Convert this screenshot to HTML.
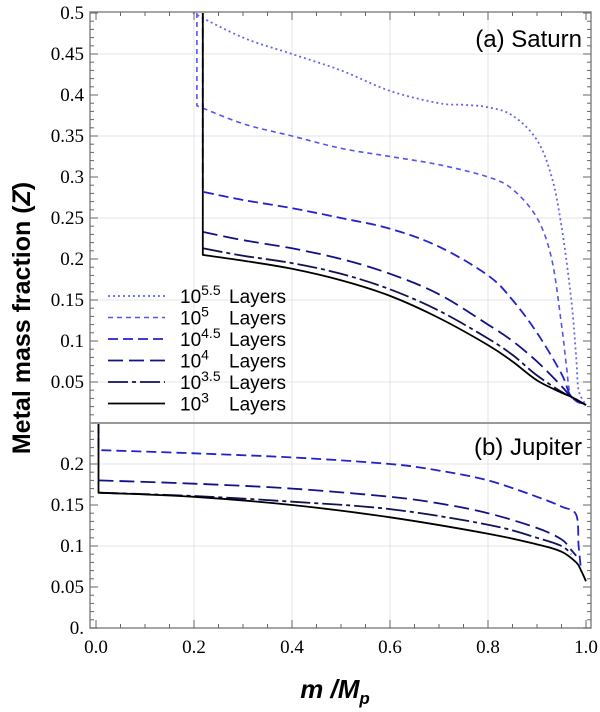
<!DOCTYPE html>
<html><head><meta charset="utf-8"><style>
html,body{margin:0;padding:0;background:#fff;width:600px;height:712px;overflow:hidden}
.serif{font-family:"Liberation Serif","DejaVu Serif",serif}
.sans{font-family:"Liberation Sans","DejaVu Sans",sans-serif}
</style></head><body>
<svg id="chart" width="600" height="712" xmlns="http://www.w3.org/2000/svg"></svg>
<script>
const xTicks=[0,0.2,0.4,0.6,0.8,1.0];
const xTickLabels=["0.0","0.2","0.4","0.6","0.8","1.0"];
const satTicks=[0.05,0.1,0.15,0.2,0.25,0.3,0.35,0.4,0.45,0.5];
const satTickLabels=["0.05","0.1","0.15","0.2","0.25","0.3","0.35","0.4","0.45","0.5"];
const jupTicks=[0,0.05,0.1,0.15,0.2];
const jupTickLabels=["0.","0.05","0.1","0.15","0.2"];
const seriesNames=["5.5","5","4.5","4","3.5","3"];
// Saturn series [m, Z]
const sat55=[[0.198,0.5],[0.3,0.47],[0.4,0.45],[0.5,0.43],[0.6,0.405],[0.7,0.39],[0.75,0.388],[0.8,0.385],[0.85,0.375],[0.9,0.345],[0.93,0.3],[0.95,0.24],[0.97,0.15],[0.98,0.08],[0.985,0.04],[1.0,0.022]];
const sat5=[[0.206,0.5],[0.206,0.387],[0.3,0.365],[0.4,0.35],[0.5,0.335],[0.6,0.325],[0.7,0.315],[0.8,0.3],[0.85,0.285],[0.9,0.25],[0.93,0.2],[0.95,0.12],[0.96,0.07],[0.97,0.032],[1.0,0.022]];
const sat45=[[0.218,0.5],[0.218,0.282],[0.3,0.272],[0.4,0.262],[0.5,0.25],[0.6,0.237],[0.7,0.215],[0.8,0.18],[0.85,0.15],[0.9,0.11],[0.95,0.06],[0.97,0.032],[1.0,0.022]];
const sat4=[[0.218,0.233],[0.3,0.223],[0.4,0.213],[0.5,0.2],[0.6,0.182],[0.7,0.157],[0.8,0.12],[0.85,0.1],[0.9,0.075],[0.95,0.045],[0.97,0.032],[1.0,0.022]];
const sat35=[[0.218,0.213],[0.3,0.204],[0.4,0.195],[0.5,0.182],[0.6,0.163],[0.7,0.137],[0.8,0.103],[0.85,0.083],[0.9,0.058],[0.95,0.038],[0.97,0.032],[1.0,0.022]];
const sat3=[[0.218,0.5],[0.218,0.205],[0.3,0.198],[0.4,0.188],[0.5,0.174],[0.6,0.155],[0.7,0.128],[0.8,0.095],[0.85,0.075],[0.9,0.052],[0.95,0.037],[0.97,0.032],[1.0,0.022]];
// Jupiter series
const jup45=[[0.005,0.25],[0.005,0.217],[0.2,0.213],[0.4,0.208],[0.6,0.2],[0.7,0.192],[0.8,0.18],[0.9,0.16],[0.95,0.148],[0.98,0.138],[0.985,0.1],[0.99,0.07]];
const jup4=[[0.005,0.18],[0.2,0.176],[0.4,0.17],[0.6,0.16],[0.7,0.152],[0.8,0.14],[0.9,0.122],[0.95,0.108],[0.97,0.095],[0.98,0.088]];
const jup35=[[0.005,0.165],[0.2,0.161],[0.4,0.154],[0.6,0.145],[0.8,0.126],[0.9,0.11],[0.95,0.1],[0.97,0.09]];
const jup3=[[0.005,0.25],[0.005,0.165],[0.2,0.16],[0.4,0.15],[0.6,0.135],[0.8,0.115],[0.9,0.102],[0.95,0.093],[0.98,0.08],[0.99,0.07],[1.0,0.057]];

const NS="http://www.w3.org/2000/svg";
const svg=document.getElementById('chart');
const X0=96,X1=586,L=90,R=591,SAT0=423,JUP0=628,K=820,TOP=12;
const xs=m=>X0+(X1-X0)*m;
const ySat=z=>SAT0-K*z;
const yJup=z=>JUP0-K*z;
function el(t,a,p){const e=document.createElementNS(NS,t);for(const k in a)e.setAttribute(k,a[k]);(p||svg).appendChild(e);return e;}
const styles=[
 {c:"#6666ee",d:"2,3",w:1.8},{c:"#5555ee",d:"5,4",w:1.6},{c:"#2222cc",d:"10,5",w:1.8},
 {c:"#111188",d:"15,6",w:1.8},{c:"#111155",d:"20,4,4,4",w:1.8},{c:"#000",d:"",w:1.8}];
// grid
const g=el('g',{});

xTicks.slice(1,5).forEach(v=>{el('line',{x1:xs(v),x2:xs(v),y1:TOP,y2:JUP0,stroke:"#e4e4e4","stroke-width":1},g);});
[0.05,0.15,0.25,0.35,0.45].forEach(v=>{el('line',{x1:L,x2:R,y1:ySat(v),y2:ySat(v),stroke:"#e4e4e4"},g);});
[0.1,0.2].forEach(v=>{el('line',{x1:L,x2:R,y1:yJup(v),y2:yJup(v),stroke:"#e4e4e4"},g);});
function smooth(pts){
 let d='M'+pts[0][0].toFixed(1)+','+pts[0][1].toFixed(1);
 let start=0;
 if(pts.length>1&&Math.abs(pts[1][0]-pts[0][0])<0.5){d+=' L'+pts[1][0].toFixed(1)+','+pts[1][1].toFixed(1);start=1;}
 const p=pts.slice(start);
 for(let i=0;i<p.length-1;i++){
  const p0=p[Math.max(i-1,0)],p1=p[i],p2=p[i+1],p3=p[Math.min(i+2,p.length-1)];
  const t=0.5/3;
  const c1=[p1[0]+(p2[0]-p0[0])*t,p1[1]+(p2[1]-p0[1])*t];
  const c2=[p2[0]-(p3[0]-p1[0])*t,p2[1]-(p3[1]-p1[1])*t];
  d+=' C'+c1[0].toFixed(1)+','+c1[1].toFixed(1)+' '+c2[0].toFixed(1)+','+c2[1].toFixed(1)+' '+p2[0].toFixed(1)+','+p2[1].toFixed(1);
 }
 return d;
}
function path(data,yf,s,name,parent){
 const pts=data.map(p=>[xs(p[0]),yf(p[1])]);
 const e=el('path',{d:smooth(pts),fill:'none',stroke:s.c,'stroke-width':s.w,'stroke-dasharray':s.d,'stroke-linejoin':'round'},parent);
 
 
}
const satG=el('g',{});
[sat55,sat5,sat45,sat4,sat35,sat3].forEach((d,i)=>path(d,ySat,styles[i],'saturn-series-'+seriesNames[i].replace('.','-'),satG));
const jupG=el('g',{});
[jup45,jup4,jup35,jup3].forEach((d,i)=>path(d,yJup,styles[i+2],'jupiter-series-'+seriesNames[i+2].replace('.','-'),jupG));
// frames
const fr=el('g',{stroke:"#888",fill:"none","stroke-width":1.5});

el('rect',{x:L,y:TOP,width:R-L,height:JUP0-TOP},fr);
el('line',{x1:L,x2:R,y1:SAT0,y2:SAT0,stroke:"#999","stroke-width":2},fr);
// ticks
const tk=el('g',{stroke:"#666","stroke-width":1});

for(let i=0;i<=50;i++){const z=i/100;const len=(i%5==0)?8:4;
 if(z>0){el('line',{x1:L,x2:L+len,y1:ySat(z),y2:ySat(z)},tk);el('line',{x1:R,x2:R-len,y1:ySat(z),y2:ySat(z)},tk);}
 if(z<0.25){el('line',{x1:L,x2:L+len,y1:yJup(z),y2:yJup(z)},tk);el('line',{x1:R,x2:R-len,y1:yJup(z),y2:yJup(z)},tk);}}
for(let i=0;i<=20;i++){const m=i/20;const len=(i%4==0)?8:4;
 el('line',{x1:xs(m),x2:xs(m),y1:JUP0,y2:JUP0-len},tk);el('line',{x1:xs(m),x2:xs(m),y1:TOP,y2:TOP+len},tk);}
function txt(s,x,y,a,name){const t=el('text',a);t.textContent=s;t.setAttribute('x',x);t.setAttribute('y',y);
 return t;}
const SF='Liberation Serif, DejaVu Serif, serif', SS='Liberation Sans, DejaVu Sans, sans-serif';
xTicks.forEach((v,i)=>txt(xTickLabels[i],xs(v),653,{'font-size':19,'text-anchor':'middle','font-family':SF,'class':'serif'},'x-tick-label'));
satTicks.forEach((v,i)=>txt(satTickLabels[i],84,ySat(v)+6,{'font-size':19,'text-anchor':'end','font-family':SF,'class':'serif'},'saturn-y-tick-label'));
jupTicks.forEach((v,i)=>txt(jupTickLabels[i],84,yJup(v)+6,{'font-size':19,'text-anchor':'end','font-family':SF,'class':'serif'},'jupiter-y-tick-label'));
txt('(a) Saturn',582,47,{'font-size':24,'text-anchor':'end','font-family':SS,'class':'sans'},'saturn-panel-label');
txt('(b) Jupiter',582,455,{'font-size':24,'text-anchor':'end','font-family':SS,'class':'sans'},'jupiter-panel-label');
// legend
const lg=el('g',{});
seriesNames.forEach((n,i)=>{const y=296+21.5*i;const s=styles[i];
 const e=el('g',{},lg);
 el('line',{x1:108,x2:165,y1:y,y2:y,stroke:s.c,'stroke-width':s.w,'stroke-dasharray':s.d},e);
 const t=el('text',{x:180,y:y+7,'font-size':19,'font-family':SS,'class':'sans'},e);
 t.innerHTML='10<tspan dy="-8" font-size="14">'+n+'</tspan>';
 const t2=el('text',{x:229,y:y+7,'font-size':19,'font-family':SS,'class':'sans'},e);t2.textContent='Layers';});
const yt=txt('',0,0,{'font-size':25,'font-weight':'bold','text-anchor':'middle',transform:'translate(30,318) rotate(-90)','font-family':SS,'class':'sans'},'y-axis-title');
yt.innerHTML='Metal mass fraction (<tspan font-style="italic">Z</tspan>)';
const xt=txt('',335,698,{'font-size':26,'font-weight':'bold','font-style':'italic','text-anchor':'middle','font-family':SS,'class':'sans'},'x-axis-title');
xt.innerHTML='m /M<tspan dy="6" font-size="17">p</tspan>';
</script>
</body></html>
